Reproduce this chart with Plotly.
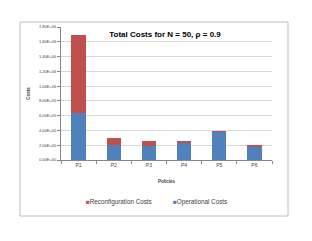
import plotly.graph_objects as go

policies = ["P1", "P2", "P3", "P4", "P5", "P6"]
operational = [634000, 202000, 185000, 225000, 383000, 180000]
reconfiguration = [1062000, 95000, 67000, 37000, 3000, 18000]
ytick_vals = [0, 200000, 400000, 600000, 800000, 1000000, 1200000, 1400000, 1600000, 1800000]
ytick_text = ["0.00E+00", "2.00E+05", "4.00E+05", "6.00E+05", "8.00E+05",
              "1.00E+06", "1.20E+06", "1.40E+06", "1.60E+06", "1.80E+06"]
series_names = ["Operational Costs", "Reconfiguration Costs"]
series_colors = ["#4F81BD", "#C0504D"]

fig = go.Figure()
fig.add_trace(go.Bar(x=policies, y=operational, name=series_names[0],
                     marker=dict(color=series_colors[0], line=dict(width=0))))
fig.add_trace(go.Bar(x=policies, y=reconfiguration, name=series_names[1],
                     marker=dict(color=series_colors[1], line=dict(width=0))))

L, R, T, B = 61, 272, 27, 160
W, H = R - L, B - T
def px(x): return (x - L) / W
def py(y): return (B - y) / H

annotations = []
legend_pos = [(171, series_names[0], series_colors[0]), (84, series_names[1], series_colors[1])]
for x0, name, col in legend_pos:
    annotations.append(dict(xref="paper", yref="paper", x=px(x0), y=py(202),
                            xanchor="left", yanchor="middle", showarrow=False,
                            text=f"<span style='color:{col}'>\u25a0</span>{name}",
                            font=dict(size=6.3, color="#404040")))

fig.update_layout(
    width=312, height=241,
    margin=dict(l=L, r=312 - R, t=T, b=241 - B, autoexpand=False),
    barmode="stack", bargap=0.59,
    paper_bgcolor="white", plot_bgcolor="white",
    font=dict(family="Liberation Sans, Arial", color="#404040"),
    showlegend=False,
    annotations=annotations,
    title=dict(text="<b>Total Costs for N = 50, \u03c1 = 0.9</b>", xref="container", x=165 / 312,
               xanchor="center", y=1 - 34 / 241, yanchor="middle",
               font=dict(size=8, color="#000000")),
    xaxis=dict(title=dict(text="<b>Policies</b>", font=dict(size=4.5, color="#404040"), standoff=12),
               tickfont=dict(size=5, color="#404040"), showline=True, linecolor="#868686",
               linewidth=1, ticks="outside", ticklen=3, tickcolor="#868686", automargin=False,
               tickson="boundaries", showgrid=False, fixedrange=True),
    yaxis=dict(title=dict(text="<b>Costs</b>", font=dict(size=4.5, color="#404040"), standoff=8),
               range=[0, 1800000], tickvals=ytick_vals, ticktext=ytick_text, automargin=False,
               tickfont=dict(size=4, color="#404040"), showline=True, linecolor="#868686",
               linewidth=1, ticks="outside", ticklen=3, tickcolor="#868686",
               showgrid=True, gridcolor="#D9D9D9", gridwidth=1, zeroline=False, fixedrange=True),
    shapes=[dict(type="rect", xref="paper", yref="paper",
                 x0=px(20), x1=px(288), y0=py(216), y1=py(22),
                 line=dict(color="#BFBFBF", width=1), layer="below")],
)

fig.write_html("out.html", config={"displayModeBar": False},
               post_script="document.body.style.margin='0';document.body.style.overflow='hidden';")
